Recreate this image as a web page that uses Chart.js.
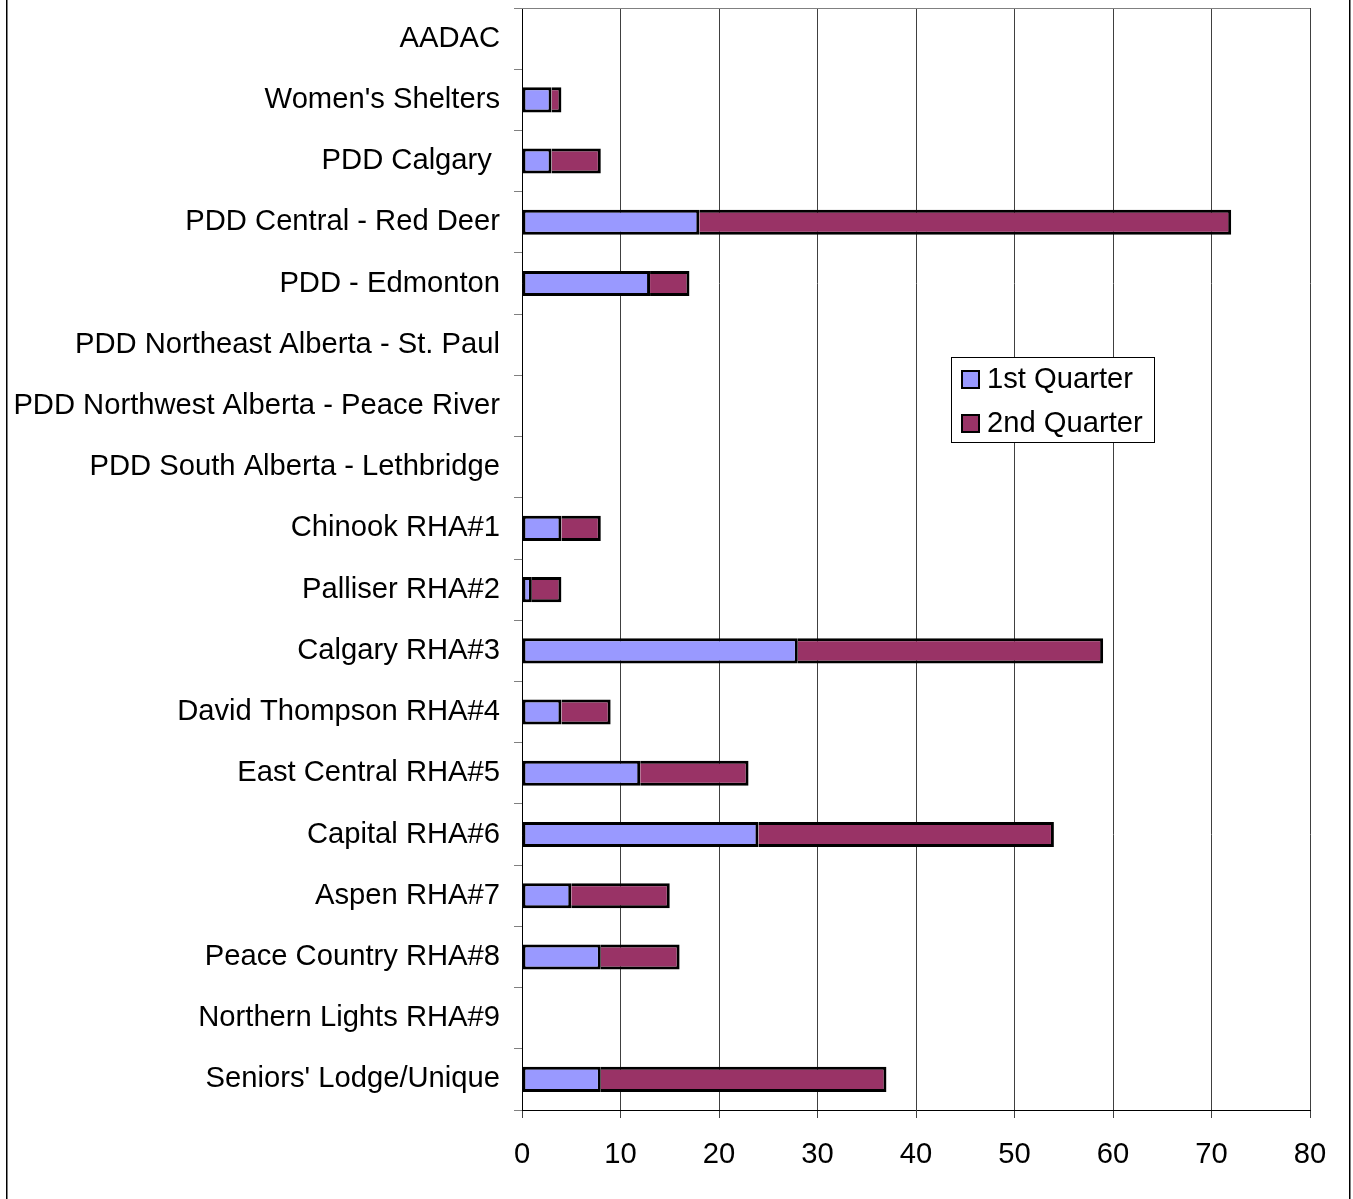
<!DOCTYPE html>
<html><head><meta charset="utf-8">
<script src="https://cdn.jsdelivr.net/npm/chart.js@4"></script>
<style>html,body{margin:0;padding:0;background:#fff;}#wrap{width:1353px;height:1199px;position:relative;}</style>
</head><body><div id="wrap"><canvas id="c" width="1353" height="1199"></canvas></div>
<script>
const categories = ["AADAC","Women's Shelters","PDD Calgary ","PDD Central - Red Deer","PDD - Edmonton","PDD Northeast Alberta - St. Paul","PDD Northwest Alberta - Peace River","PDD South Alberta - Lethbridge","Chinook RHA#1","Palliser RHA#2","Calgary RHA#3","David Thompson RHA#4","East Central RHA#5","Capital RHA#6","Aspen RHA#7","Peace Country RHA#8","Northern Lights RHA#9","Seniors' Lodge/Unique"];
const q1 = [0,3,3,18,13,0,0,0,4,1,28,4,12,24,5,8,0,8];
const q2 = [0,1,5,54,4,0,0,0,4,3,31,5,11,30,10,8,0,29];
const seriesNames = ["1st Quarter","2nd Quarter"];
const seriesColors = ["#9999FF","#993366"];
const xMin = 0, xMax = 80, xStep = 10;

const FONT = "'Liberation Sans', Arial, sans-serif";
const FS = 29.2;
Chart.defaults.font.family = FONT;

const framePlugin = {
  id:'frame',
  beforeDraw(chart){
    const c = chart.ctx;
    c.save(); c.fillStyle='#fff'; c.fillRect(0,0,chart.width,chart.height); c.restore();
  },
  afterDatasetsDraw(chart){
    const c = chart.ctx, a = chart.chartArea;
    c.save();
    c.strokeStyle='#808080'; c.lineWidth=1;
    c.beginPath(); c.moveTo(a.left, a.top+0.5); c.lineTo(a.right, a.top+0.5); c.stroke();
    c.fillStyle='#000';
    c.fillRect(6,0,1.5,chart.height);
    c.fillRect(1349,0,1.5,chart.height);
    c.restore();
  },
  afterDraw(chart){
    const c = chart.ctx;
    c.save();
    const bx=951.5, by=357.5, bw=203, bh=85;
    c.fillStyle='#fff'; c.fillRect(bx,by,bw,bh);
    c.strokeStyle='#000'; c.lineWidth=1; c.strokeRect(bx,by,bw,bh);
    c.font = FS + "px " + FONT; c.textBaseline='middle'; c.textAlign='left';
    chart.data.datasets.forEach((ds,i)=>{
      const sy = 370 + i*44;
      c.fillStyle = ds.backgroundColor; c.fillRect(961,sy,19,19);
      c.lineWidth=2; c.strokeStyle='#000'; c.strokeRect(962,sy+1,17,17);
      c.fillStyle='#000'; c.fillText(ds.label, 987, sy+10);
    });
    c.restore();
  }
};

new Chart(document.getElementById('c'), {
  type:'bar',
  data:{
    labels: categories,
    datasets:[
      {label:seriesNames[0], data:q1, backgroundColor:seriesColors[0], borderColor:'#000',
       borderWidth: ctx => ctx.raw ? 3 : 0, borderSkipped:false, barPercentage:0.41, categoryPercentage:1},
      {label:seriesNames[1], data:q2, backgroundColor:seriesColors[1], borderColor:'#000',
       borderWidth: ctx => ctx.raw ? {top:3,bottom:3,right:3,left:(q1[ctx.dataIndex]?0:3)} : 0, borderSkipped:false, barPercentage:0.41, categoryPercentage:1}
    ]
  },
  options:{
    indexAxis:'y', responsive:false, animation:false, devicePixelRatio:1,
    layout:{padding:{top:8,right:43,left:0,bottom:0}},
    plugins:{legend:{display:false}, tooltip:{enabled:false}},
    scales:{
      x:{stacked:true, min:xMin, max:xMax,
        ticks:{stepSize:xStep, font:{size:FS}, color:'#000', padding:19},
        grid:{color:'#404040', lineWidth:1, tickLength:8},
        border:{color:'#000', width:1},
        afterFit(s){ s.height = 89; }
      },
      y:{stacked:true,
        ticks:{font:{size:FS}, color:'#000', padding:14, autoSkip:false},
        grid:{drawOnChartArea:false, tickLength:8, color:'#808080', offset:true},
        border:{color:'#000', width:1},
        afterFit(s){ s.width = 522; s.paddingTop = 0; s.paddingBottom = 0; }
      }
    }
  },
  plugins:[framePlugin]
});
</script></body></html>
